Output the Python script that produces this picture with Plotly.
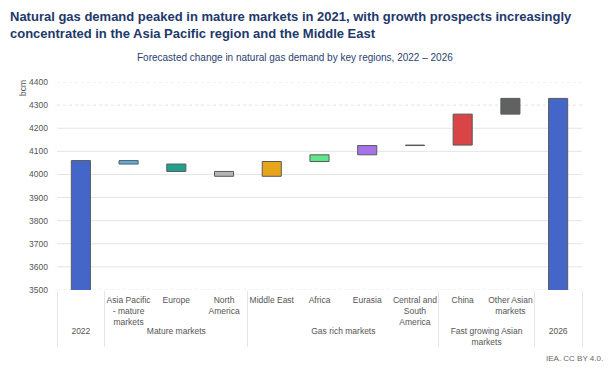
import plotly.graph_objects as go

# ---- data ----
groups = ["2022", "Mature markets", "Mature markets", "Mature markets",
          "Gas rich markets", "Gas rich markets", "Gas rich markets", "Gas rich markets",
          "Fast growing Asian<br>markets", "Fast growing Asian<br>markets", "2026"]
categories = [" ", "Asia Pacific<br>- mature<br>markets", "Europe", "North<br>America",
              "Middle East", "Africa", "Eurasia", "Central and<br>South<br>America",
              "China", "Other Asian<br>markets", "  "]
start_value = 4060
changes = [-15, -32, -21, 64, 29, 40, 2, 134, 68]
colors = ["#4466c9", "#5ab0e2", "#22a08f", "#b5b5b5", "#e6a51a", "#5ee88b",
          "#a872e8", "#8a7d6e", "#d94444", "#5f6261", "#4466c9"]
y_ticks = [3500, 3600, 3700, 3800, 3900, 4000, 4100, 4200, 4300, 4400]

# ---- build waterfall bases ----
bases, heights = [0], [start_value]
level = start_value
for c in changes:
    bases.append(level)
    heights.append(c)
    level += c
end_value = level
bases.append(0)
heights.append(end_value)

fig = go.Figure(go.Bar(
    x=[groups, categories], y=heights, base=bases,
    marker=dict(color=colors, line=dict(color="#5a5a5a", width=1)),
    width=0.4, hoverinfo="skip",
))

shapes = []
for v in y_ticks:
    dashed = v in (3500, 4300, 4400)
    shapes.append(dict(type="line", xref="paper", yref="y", x0=0, x1=1, y0=v, y1=v,
                       layer="below",
                       line=dict(color="#e4e4e4", width=1, dash="dot" if dashed else "solid")))

font = "Liberation Sans, Arial, sans-serif"
fig.update_layout(
    width=603, height=365,
    margin=dict(l=49, r=29, t=74, b=83),
    paper_bgcolor="white", plot_bgcolor="white",
    showlegend=False,
    font=dict(family=font, size=8.5, color="#555555"),
    shapes=shapes,
    xaxis=dict(type="multicategory", showgrid=False, ticks="", showline=False,
               tickangle=0, ticklabelstandoff=3,
               dividercolor="#e6e6e6", dividerwidth=1,
               tickfont=dict(size=8.5, color="#555555")),
    yaxis=dict(range=[3500, 4400], tickvals=y_ticks, showgrid=False, zeroline=False,
               ticks="", showline=False, ticklabelstandoff=8,
               tickfont=dict(size=8.5, color="#555555")),
    annotations=[
        dict(text="<b>Natural gas demand peaked in mature markets in 2021, with growth prospects increasingly<br>concentrated in the Asia Pacific region and the Middle East</b>",
             xref="paper", yref="paper", x=-49/525, y=1 + 75/208, xanchor="left", yanchor="top",
             align="left", showarrow=False,
             font=dict(family=font, size=13, color="#22386b")),
        dict(text="Forecasted change in natural gas demand by key regions, 2022 \u2013 2026",
             xref="paper", yref="paper", x=(295 - 57) / 525, y=1 + 24/208, xanchor="center",
             yanchor="middle", showarrow=False,
             font=dict(family=font, size=10, color="#2a3f72")),
        dict(text="bcm", xref="paper", yref="paper", x=-34/525, y=1 - 6/208,
             xanchor="center", yanchor="middle", textangle=-90, showarrow=False,
             font=dict(family=font, size=8.5, color="#555555")),
        dict(text="IEA. CC BY 4.0.", xref="paper", yref="paper", x=1 + 23/525, y=-68/208,
             xanchor="right", yanchor="middle", showarrow=False,
             font=dict(family=font, size=8, color="#666666")),
    ],
)

fig.write_html("out.html")
